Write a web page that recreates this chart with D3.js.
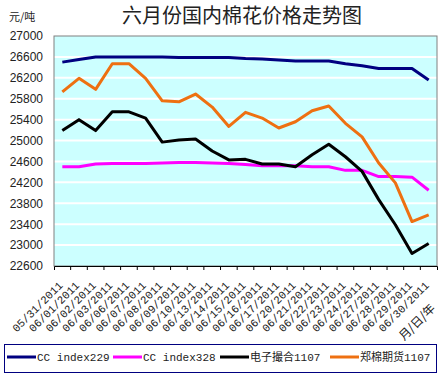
<!DOCTYPE html>
<html>
<head>
<meta charset="utf-8">
<script src="https://cdn.jsdelivr.net/npm/d3@7"></script>
<style>
body { margin: 0; background: #fff; }
svg { display: block; }
</style>
</head>
<body>
<svg width="442" height="376"></svg>
<script>
var dates = ['05/31/2011','06/01/2011','06/02/2011','06/03/2011','06/06/2011','06/07/2011',
    '06/08/2011','06/09/2011','06/10/2011','06/13/2011','06/14/2011','06/15/2011',
    '06/16/2011','06/17/2011','06/20/2011','06/21/2011','06/22/2011','06/23/2011',
    '06/24/2011','06/27/2011','06/28/2011','06/29/2011','06/30/2011'];

var cc229 = [26500,26550,26600,26600,26600,26600,26600,26590,26590,26590,26590,26570,
    26560,26540,26520,26520,26520,26470,26430,26380,26380,26380,26160];
var cc328 = [24500,24500,24550,24560,24560,24560,24570,24580,24580,24570,24560,24540,
    24520,24520,24520,24500,24500,24430,24430,24310,24310,24300,24050];
var dianzi = [25190,25400,25190,25550,25550,25430,24970,25010,25030,24800,24630,24640,
    24550,24550,24500,24730,24930,24690,24410,23870,23390,22840,23030];
var zhengmian = [25930,26190,25980,26470,26470,26190,25760,25740,25890,25640,25270,25540,
    25430,25240,25360,25570,25660,25330,25070,24570,24190,23450,23580];

var seriesNames = ['CC index229','CC index328','电子撮合1107','郑棉期货1107'];
var seriesColors = ['#000080','#ff00ff','#000000','#ee7011'];
var yTicks = d3.range(22600, 27001, 400);

var svg = d3.select('svg');

var x = d3.scaleBand().domain(dates).range([54, 437]).padding(0);
var y = d3.scaleLinear().domain([22600, 27000]).range([266, 36]);

// plot background
svg.append('rect')
    .attr('x', 54).attr('y', 36)
    .attr('width', 383).attr('height', 230)
    .attr('fill', '#ccffff');

// grid
svg.append('g')
    .selectAll('line')
    .data(yTicks.slice(1, -1))
    .enter()
    .append('line')
    .attr('x1', 54).attr('x2', 437)
    .attr('y1', function(d){ return y(d); })
    .attr('y2', function(d){ return y(d); })
    .attr('stroke', '#fff')
    .attr('stroke-width', 2);

svg.append('rect')
    .attr('x', 54).attr('y', 36)
    .attr('width', 383).attr('height', 230)
    .attr('fill', 'none')
    .attr('stroke', '#808080');

// y axis
var yAxis = svg.append('g')
    .attr('transform', 'translate(54,0)')
    .call(d3.axisLeft(y).tickValues(yTicks).tickSize(0).tickPadding(11).tickFormat(d3.format('d')));
yAxis.select('.domain').remove();
yAxis.selectAll('text')
    .attr('font-family', 'Liberation Sans, Arial, sans-serif')
    .attr('font-size', 12)
    .attr('fill', '#222');

// x axis ticks at category borders
var xAxis = svg.append('g')
    .attr('transform', 'translate(0,266)')
    .call(d3.axisBottom(x).tickSize(4).tickFormat(''));
xAxis.select('.domain').attr('stroke', '#000');
xAxis.selectAll('.tick line')
    .attr('transform', 'translate(' + (x.bandwidth() / 2) + ',0)');
xAxis.selectAll('.tick').filter(function(d, i){ return i == dates.length - 1; }).remove();

svg.append('g')
    .selectAll('text')
    .data(dates)
    .enter()
    .append('text')
    .attr('transform', function(d){
        return 'translate(' + (x(d) + x.bandwidth() / 2 + 1) + ',286) rotate(-45)';
    })
    .attr('text-anchor', 'end')
    .attr('font-family', 'Liberation Mono, monospace')
    .attr('font-size', 11)
    .attr('fill', '#222')
    .text(function(d){ return d; });

svg.append('text')
    .attr('transform', 'translate(436,309) rotate(-45)')
    .attr('text-anchor', 'end')
    .attr('font-family', 'Noto Sans CJK SC, sans-serif')
    .attr('font-size', 12)
    .attr('fill', '#222')
    .text('月/日/年');

// lines
var allSeries = [cc229, cc328, dianzi, zhengmian];
var line = d3.line()
    .x(function(d, i){ return x(dates[i]) + x.bandwidth() / 2; })
    .y(function(d){ return y(d); });

svg.append('g')
    .selectAll('path')
    .data(allSeries)
    .enter()
    .append('path')
    .attr('d', line)
    .attr('fill', 'none')
    .attr('stroke', function(d, i){ return seriesColors[i]; })
    .attr('stroke-width', 3)
    .attr('stroke-linejoin', 'round');

// titles
svg.append('text')
    .attr('x', 242).attr('y', 23)
    .attr('text-anchor', 'middle')
    .attr('font-family', 'Noto Sans CJK SC, sans-serif')
    .attr('font-size', 20)
    .attr('fill', '#222')
    .text('六月份国内棉花价格走势图');

svg.append('text')
    .attr('x', 9).attr('y', 21)
    .attr('font-family', 'Noto Sans CJK SC, sans-serif')
    .attr('font-size', 11)
    .attr('fill', '#222')
    .text('元/吨');

// legend
svg.append('rect')
    .attr('x', 4.5).attr('y', 344.5)
    .attr('width', 432).attr('height', 28)
    .attr('fill', '#fff')
    .attr('stroke', '#000080');

var legendX = [7, 113, 220, 330];
var leg = svg.append('g')
    .selectAll('g')
    .data(seriesNames)
    .enter()
    .append('g')
    .attr('transform', function(d, i){ return 'translate(' + legendX[i] + ',357)'; });

leg.append('line')
    .attr('x1', 0).attr('x2', 29)
    .attr('stroke', function(d, i){ return seriesColors[i]; })
    .attr('stroke-width', 3);

leg.append('text')
    .attr('x', 30).attr('y', 4)
    .attr('font-family', 'Liberation Mono, Noto Sans CJK SC, monospace')
    .attr('font-size', 11)
    .attr('fill', '#222')
    .text(function(d){ return d; });
</script>
</body>
</html>
